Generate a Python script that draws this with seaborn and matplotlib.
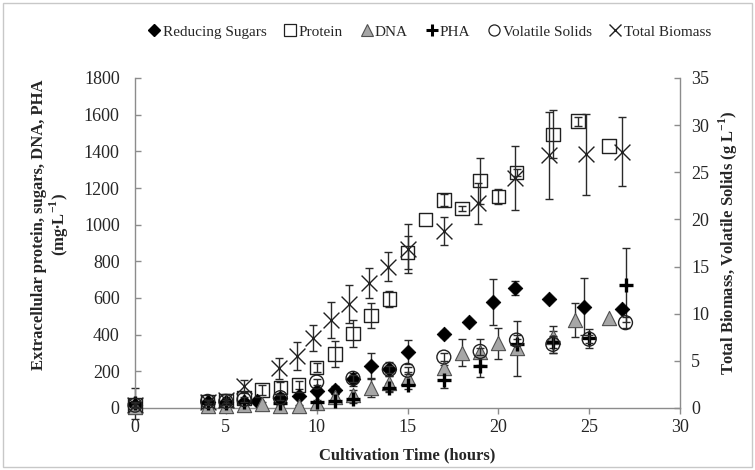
import numpy as np
import pandas as pd
import matplotlib
matplotlib.use("Agg")
import matplotlib.pyplot as plt
import seaborn as sns
from matplotlib.lines import Line2D
from matplotlib.patches import Rectangle

# ---------------- data ----------------
sug_t = [0, 4, 5, 6, 6.7, 8, 9, 10, 11, 12, 13, 14, 15, 17, 18.4, 19.7, 20.9, 22.8, 24.7, 26.8]
sug_v = [15, 34, 34, 34, 40, 53, 67, 95, 98, 156, 229, 213, 307, 405, 471, 578, 655, 593, 553, 538]
sug_e = [10, 15, 15, 15, 10, 15, 15, 20, 20, 35, 70, 40, 65, 15, 0, 125, 40, 0, 155, 0]

pro_t = [0, 4, 5, 6, 7, 8, 9, 10, 11, 12, 13, 14, 15, 16, 17, 18, 19, 20, 21, 23, 24.4, 26.1]
pro_v = [15, 35, 40, 55, 98, 113, 125, 222, 295, 407, 504, 594, 849, 1029, 1135, 1089, 1240, 1153, 1285, 1493, 1565, 1429]
pro_e = [10, 15, 15, 30, 25, 30, 20, 25, 70, 75, 70, 44, 90, 0, 35, 15, 125, 40, 20, 130, 25, 0]

dna_t = [0, 4, 5, 6, 7, 8, 9, 10, 11, 12, 13, 14, 15, 17, 18, 19, 20, 21, 23, 24.2, 26.1]
dna_v = [5, 12, 12, 15, 22, 13, 13, 25, 58, 71, 111, 134, 165, 216, 302, 307, 353, 325, 389, 480, 489]
dna_e = [5, 5, 5, 10, 10, 5, 5, 10, 20, 25, 50, 40, 30, 20, 73, 70, 86, 150, 60, 94, 0]

pha_t = [0, 4, 5, 6, 8, 10, 11, 12, 14, 15, 17, 19, 21, 23, 25, 27]
pha_v = [25, 30, 30, 35, 30, 35, 40, 48, 110, 125, 153, 229, 349, 362, 380, 671]
pha_e = [85, 10, 10, 10, 10, 10, 10, 20, 25, 20, 45, 58, 30, 60, 50, 204]

vs_t = [0, 4, 5, 6, 8, 10, 12, 14, 15, 17, 19, 21, 23, 25, 27]
vs_v = [0.3, 0.7, 0.7, 0.9, 1.1, 2.75, 3.15, 4.1, 4.0, 5.4, 6.0, 7.2, 6.75, 7.3, 9.05]
vs_e = [0.2, 0.2, 0.2, 0.3, 0.3, 0.3, 0.4, 0.4, 0.4, 0.4, 0.4, 0.5, 0.9, 0.4, 0.6]

bio_t = [0, 4, 5, 6, 7.9, 8.9, 9.8, 10.8, 11.8, 12.9, 13.9, 15, 17, 18.9, 20.9, 22.8, 24.8, 26.8]
bio_v = [0.3, 0.6, 0.9, 2.3, 4.2, 5.5, 7.4, 9.3, 11.0, 13.3, 15.0, 16.9, 18.8, 21.7, 24.4, 26.8, 26.9, 27.2]
bio_e = [0.3, 0.3, 0.6, 0.7, 1.1, 1.5, 1.4, 1.9, 2.0, 1.6, 1.5, 2.6, 1.5, 2.2, 3.4, 4.6, 4.3, 3.7]

labels = ["Reducing Sugars", "Protein", "DNA", "PHA", "Volatile Solids", "Total Biomass"]

# ---------------- style ----------------
sns.set_style("white")
plt.rcParams["font.family"] = ["Liberation Serif", "DejaVu Serif"]
plt.rcParams["mathtext.fontset"] = "custom"
plt.rcParams["mathtext.rm"] = "Liberation Serif"
plt.rcParams["mathtext.bf"] = "Liberation Serif:bold"

TXT = "#262626"
SPINE = "#8c8c8c"
ECOL = "#2a2a2a"

fig = plt.figure(figsize=(7.55, 4.70), dpi=100)
ax = fig.add_axes([135 / 755, 1 - 408 / 470, 545 / 755, 330 / 470])
ax2 = ax.twinx()

series = [
    (ax, sug_t, sug_v, sug_e, dict(marker="D", color="black", edgecolor="black", s=55)),
    (ax, pro_t, pro_v, pro_e, dict(marker="s", facecolor="none", edgecolor="#202020", s=95, linewidth=1.0)),
    (ax, dna_t, dna_v, dna_e, dict(marker="^", color="#a6a6a6", edgecolor="#505050", s=105, linewidth=0.8)),
    (ax, pha_t, pha_v, pha_e, dict(marker="P")),
    (ax2, vs_t, vs_v, vs_e, dict(marker="o", facecolor="none", edgecolor="#202020", s=100, linewidth=1.0)),
    (ax2, bio_t, bio_v, bio_e, dict(marker="x", color="#202020", s=130, linewidth=1.0)),
]

for a, t, v, e, kw in series:
    t = np.asarray(t, float); v = np.asarray(v, float); e = np.asarray(e, float)
    m = e > 0
    eb = a.errorbar(t[m], v[m], yerr=e[m], fmt="none", ecolor=ECOL, elinewidth=1.0,
                    capsize=3.2, capthick=1.0, zorder=2)
    for art in eb.lines[1] + eb.lines[2]:
        art.set_clip_on(False)
    df = pd.DataFrame({"t": t, "v": v})
    if kw["marker"] == "P":
        sns.scatterplot(data=df, x="t", y="v", ax=a, marker="+", color="black",
                        s=90, linewidth=2.4, zorder=3, legend=False, clip_on=False)
    else:
        sns.scatterplot(data=df, x="t", y="v", ax=a, zorder=3, legend=False, clip_on=False, **kw)

# ---------------- axes ----------------
ax.set_xlim(0, 30)
ax.set_ylim(0, 1800)
ax2.set_ylim(0, 35)
ax.set_xticks(np.arange(0, 31, 5))
ax.set_yticks(np.arange(0, 1801, 200))
ax2.set_yticks(np.arange(0, 36, 5))

for a in (ax, ax2):
    for s in a.spines.values():
        s.set_color(SPINE)
        s.set_linewidth(1.0)
    a.spines["top"].set_visible(False)
ax.spines["right"].set_visible(False)
ax2.spines["left"].set_visible(False)
ax2.spines["bottom"].set_visible(False)

ax.tick_params(axis="y", direction="in", length=4, width=1, color=SPINE,
               labelsize=13, labelcolor=TXT, pad=11)
ax.tick_params(axis="x", direction="out", length=4, width=1, color=SPINE,
               labelsize=13, labelcolor=TXT, pad=4, bottom=True)
ax2.tick_params(axis="y", direction="in", length=4, width=1, color=SPINE,
                labelsize=13, labelcolor=TXT, pad=8, right=True)

ax.set_xlabel("Cultivation Time (hours)", fontsize=12, fontweight="bold", color=TXT)
ax.xaxis.set_label_coords(0.5, -0.12)
ax.set_ylabel("Extracellular protein, sugars, DNA, PHA\n" + r"(mg$\mathbf{\bullet}$L$^{\mathbf{-1}}$)",
              fontsize=12, fontweight="bold", color=TXT, linespacing=1.0)
ax.yaxis.set_label_coords(-0.118, 0.555)
ax2.set_ylabel(r"Total Biomass, Volatile Solids (g L$^{\mathbf{-1}}$)",
               fontsize=12, fontweight="bold", color=TXT)
ax2.yaxis.set_label_coords(1.068, 0.5)

# ---------------- legend ----------------
handles = [
    Line2D([], [], ls="none", marker="D", ms=6, mfc="black", mec="black"),
    Line2D([], [], ls="none", marker="s", ms=8, mfc="none", mec="#202020", mew=0.9),
    Line2D([], [], ls="none", marker="^", ms=8, mfc="#a6a6a6", mec="#505050", mew=0.8),
    Line2D([], [], ls="none", marker="+", ms=9, mec="black", mew=2.2),
    Line2D([], [], ls="none", marker="o", ms=8, mfc="none", mec="#202020", mew=0.9),
    Line2D([], [], ls="none", marker="x", ms=9, mec="#202020", mew=1.0),
]
fig.legend(handles, labels, loc="center", bbox_to_anchor=(0.568, 0.932), ncol=6,
           frameon=False, fontsize=11, handletextpad=0.05, columnspacing=1.05,
           handlelength=1.0, labelcolor=TXT)

fig.add_artist(Rectangle((3 / 755, 3 / 470), 749 / 755, 464 / 470, transform=fig.transFigure,
                         fill=False, edgecolor="#c8c8c8", linewidth=1.0))

fig.savefig("out.png", dpi=100)
